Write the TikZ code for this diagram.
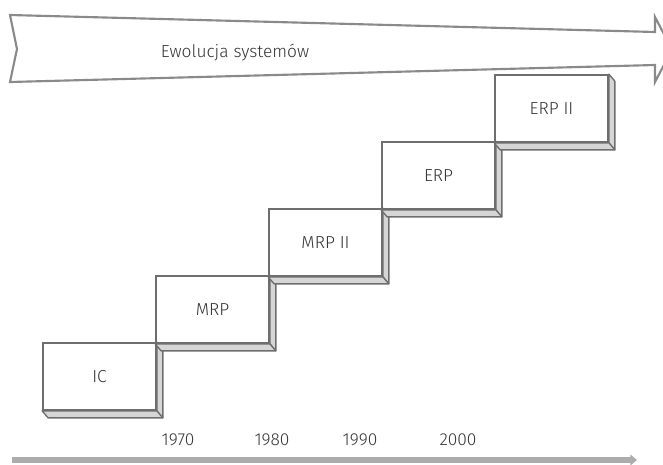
\documentclass[tikz,border=0pt]{standalone}
\usepackage{fontspec}
\setmainfont{Fira Sans Light}
\usetikzlibrary{arrows.meta}
\definecolor{edgegray}{HTML}{6E6E6E}
\definecolor{facegray}{HTML}{D6D6D6}
\definecolor{bandgray}{HTML}{8A8A8A}
\begin{document}
\begin{tikzpicture}[x=0.75pt,y=-0.75pt,
  stepbox/.style={draw=edgegray, fill=white, line width=1.3pt, inner sep=0pt,
    minimum width=84.75pt, minimum height=50.25pt, font=\fontsize{13}{15}\selectfont, text=black!80},
  sideface/.style={fill=facegray, draw=edgegray, line width=1pt, line join=round},
  band/.style={draw=bandgray, line width=1.6pt, line join=miter},
  yearlbl/.style={font=\fontsize{13}{15}\selectfont, text=black!80, inner sep=0pt},
  axis/.style={draw=gray!65, line width=4.5pt, -{Triangle[length=5pt,width=8pt]}}]
\useasboundingbox (0,0) rectangle (663,464);
\clip (0,0) rectangle (663,464);
% top evolution arrow
\draw[band] (10,15) -- (655,32) -- (655,17) -- (672,49.5) -- (655,82) -- (655,65) -- (10,82) -- (17,49) -- cycle;
\node[font=\fontsize{13}{15}\selectfont, text=black!80] (evo) at (235,52) {Ewolucja systemów};
% steps
\node[stepbox] (ic)    at (99.5,376.5) {IC};
\node[stepbox] (mrp)   at (212.5,309.5) {MRP};
\node[stepbox] (mrpii) at (325.5,242.5) {MRP II};
\node[stepbox] (erp)   at (438.5,175.5) {ERP};
\node[stepbox] (erpii) at (551.5,108.5) {ERP II};
\foreach \n in {ic,mrp,mrpii,erp,erpii}{
  \draw[sideface] (\n.north east) -- ++(6,7) -- ([shift={(6,7)}]\n.south east) -- (\n.south east) -- cycle;
  \draw[sideface] (\n.south west) -- (\n.south east) -- ([shift={(6,7)}]\n.south east) -- ([shift={(6,7)}]\n.south west) -- cycle;
}
% time axis
\coordinate (a0) at (12,460);
\coordinate (a1) at (637,460);
\draw[axis] (a0) -- (a1);
\node[yearlbl] (y1970) at (178,440) {1970};
\node[yearlbl] (y1980) at (272,440) {1980};
\node[yearlbl] (y1990) at (360,440) {1990};
\node[yearlbl] (y2000) at (458,440) {2000};
\end{tikzpicture}
\end{document}
